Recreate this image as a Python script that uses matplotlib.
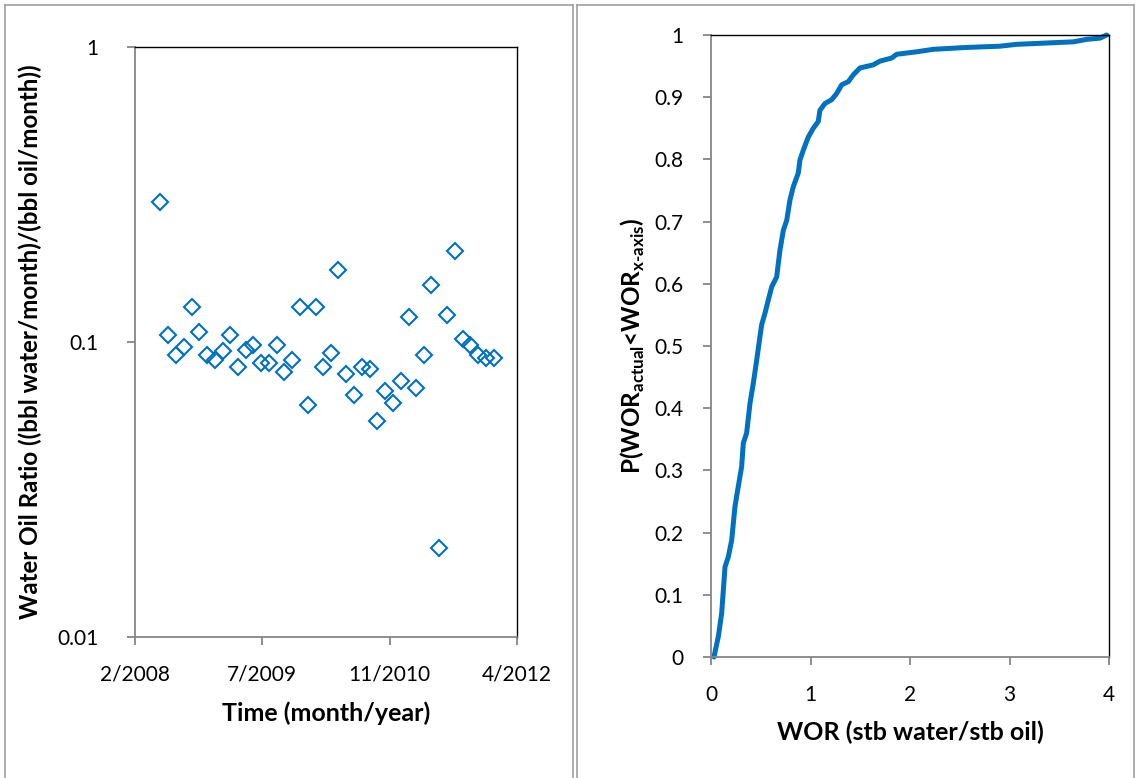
import matplotlib
matplotlib.use("Agg")
import matplotlib.pyplot as plt
from matplotlib.lines import Line2D
import datetime as dt

plt.rcParams['font.family'] = ['Lato', 'DejaVu Sans']
plt.rcParams['mathtext.fontset'] = 'custom'
plt.rcParams['mathtext.rm'] = 'Lato'
plt.rcParams['mathtext.bf'] = 'Lato:bold'

# ---------------- data ----------------
months = ['2008-06', '2008-07', '2008-08', '2008-09', '2008-10', '2008-11', '2008-12',
          '2009-01', '2009-02', '2009-03', '2009-04', '2009-05', '2009-06', '2009-07',
          '2009-08', '2009-09', '2009-10', '2009-11', '2009-12', '2010-01', '2010-02',
          '2010-03', '2010-04', '2010-05', '2010-06', '2010-07', '2010-08', '2010-09',
          '2010-10', '2010-11', '2010-12', '2011-01', '2011-02', '2011-03', '2011-04',
          '2011-05', '2011-06', '2011-07', '2011-08', '2011-09', '2011-10', '2011-11',
          '2011-12', '2012-01']
wor_monthly = [0.298, 0.106, 0.090, 0.096, 0.131, 0.108, 0.090, 0.087, 0.093, 0.106,
               0.082, 0.094, 0.098, 0.085, 0.085, 0.098, 0.079, 0.087, 0.131, 0.061,
               0.131, 0.082, 0.092, 0.175, 0.078, 0.066, 0.082, 0.081, 0.054, 0.068,
               0.062, 0.074, 0.122, 0.070, 0.090, 0.156, 0.020, 0.123, 0.203, 0.102,
               0.098, 0.090, 0.088, 0.088]
date_ticks = ['2008-02-22', '2009-07-06', '2010-11-18', '2012-04-01']
date_tick_labels = ['2/2008', '7/2009', '11/2010', '4/2012']
y_ticks_left = [0.01, 0.1, 1]
y_tick_labels_left = ['0.01', '0.1', '1']

cdf_wor = [0.03, 0.074, 0.107, 0.141, 0.174, 0.208, 0.241, 0.274, 0.308, 0.325, 0.358,
           0.392, 0.425, 0.459, 0.492, 0.509, 0.543, 0.576, 0.610, 0.660, 0.693, 0.727,
           0.761, 0.794, 0.827, 0.877, 0.894, 0.928, 0.978, 1.028, 1.078, 1.095, 1.146,
           1.213, 1.263, 1.314, 1.380, 1.430, 1.497, 1.631, 1.698, 1.816, 1.866, 2.067,
           2.235, 2.570, 2.905, 3.072, 3.641, 3.775, 3.910, 3.977]
cdf_p = [0.0, 0.033, 0.070, 0.145, 0.161, 0.188, 0.242, 0.274, 0.306, 0.344, 0.360,
         0.408, 0.440, 0.477, 0.515, 0.534, 0.553, 0.574, 0.595, 0.611, 0.654, 0.686,
         0.702, 0.735, 0.756, 0.778, 0.799, 0.815, 0.836, 0.850, 0.861, 0.879, 0.890,
         0.896, 0.906, 0.920, 0.925, 0.936, 0.947, 0.952, 0.958, 0.963, 0.969, 0.973,
         0.977, 0.980, 0.982, 0.985, 0.989, 0.993, 0.995, 1.0]
x_ticks_right = [0, 1, 2, 3, 4]
y_ticks_right = [0, 0.1, 0.2, 0.3, 0.4, 0.5, 0.6, 0.7, 0.8, 0.9, 1]
y_tick_labels_right = ['0', '0.1', '0.2', '0.3', '0.4', '0.5', '0.6', '0.7', '0.8', '0.9', '1']

# ---------------- figure ----------------
W, H = 1138, 778
fig = plt.figure(figsize=(W / 100, H / 100), dpi=100)

def fx(px):
    return px / W

def fy(py):
    return 1 - py / H

BLUE = '#0070C0'
GRAY = '#868686'
FS = 15
FT = 18

# panel borders (table cells)
border = '#A0A0A0'
for x0, x1 in [(5, 573), (577, 1134)]:
    for xs, ys in [([x0, x0], [5, 790]), ([x1, x1], [5, 790]), ([x0, x1], [5, 5])]:
        fig.add_artist(Line2D([fx(v) for v in xs], [fy(v) for v in ys], color=border,
                              lw=1.2, transform=fig.transFigure))

def style_axes(ax):
    for s in ['left', 'bottom']:
        ax.spines[s].set_color(GRAY)
        ax.spines[s].set_linewidth(1.3)
    for s in ['top', 'right']:
        ax.spines[s].set_color('black')
        ax.spines[s].set_linewidth(1.0)
    ax.tick_params(axis='both', which='major', direction='out', length=6, width=1.3,
                   color=GRAY, labelsize=FS, labelcolor='black')
    ax.tick_params(axis='both', which='minor', length=0)

# ---------------- left: scatter ----------------
axL = fig.add_axes([fx(135), fy(637), fx(517) - fx(135), fy(47) - fy(637)])
dates = [dt.datetime.strptime(m + '-01', '%Y-%m-%d') for m in months]
axL.plot(dates, wor_monthly, linestyle='none', marker='D', markersize=8.6,
         markerfacecolor='none', markeredgecolor=BLUE, markeredgewidth=1.5, clip_on=False)
axL.set_yscale('log')
axL.set_ylim(0.01, 1)
tick_dates = [dt.datetime.strptime(d, '%Y-%m-%d') for d in date_ticks]
axL.set_xlim(tick_dates[0], tick_dates[-1])
axL.set_xticks(tick_dates)
axL.set_xticklabels(date_tick_labels)
axL.set_yticks(y_ticks_left)
axL.set_yticklabels(y_tick_labels_left)
axL.yaxis.set_minor_locator(matplotlib.ticker.NullLocator())
style_axes(axL)
axL.tick_params(axis='y', pad=20)
axL.tick_params(axis='x', pad=14)
axL.set_xlabel('Time (month/year)', fontsize=FT, fontweight='bold', labelpad=12)
axL.set_ylabel('Water Oil Ratio ((bbl water/month)/(bbl oil/month))', fontsize=17.4,
               fontweight='bold', labelpad=11)

# ---------------- right: CDF ----------------
axR = fig.add_axes([fx(711), fy(657), fx(1109) - fx(711), fy(35) - fy(657)])
axR.plot(cdf_wor, cdf_p, color=BLUE, lw=3.6, solid_capstyle='round',
         solid_joinstyle='round', clip_on=False)
axR.set_xlim(0, 4)
axR.set_ylim(0, 1)
axR.set_xticks(x_ticks_right)
axR.set_yticks(y_ticks_right)
axR.set_yticklabels(y_tick_labels_right)
style_axes(axR)
axR.tick_params(axis='y', pad=14)
axR.tick_params(axis='x', pad=14)
axR.set_xlabel('WOR (stb water/stb oil)', fontsize=FT, fontweight='bold', labelpad=11)
axR.set_ylabel('P(WOR$_{\\mathbf{actual}}$<WOR$_{\\mathbf{x\u2010axis}}$)', fontsize=17.5,
               fontweight='bold', labelpad=5)

fig.savefig('out.png', dpi=100)
